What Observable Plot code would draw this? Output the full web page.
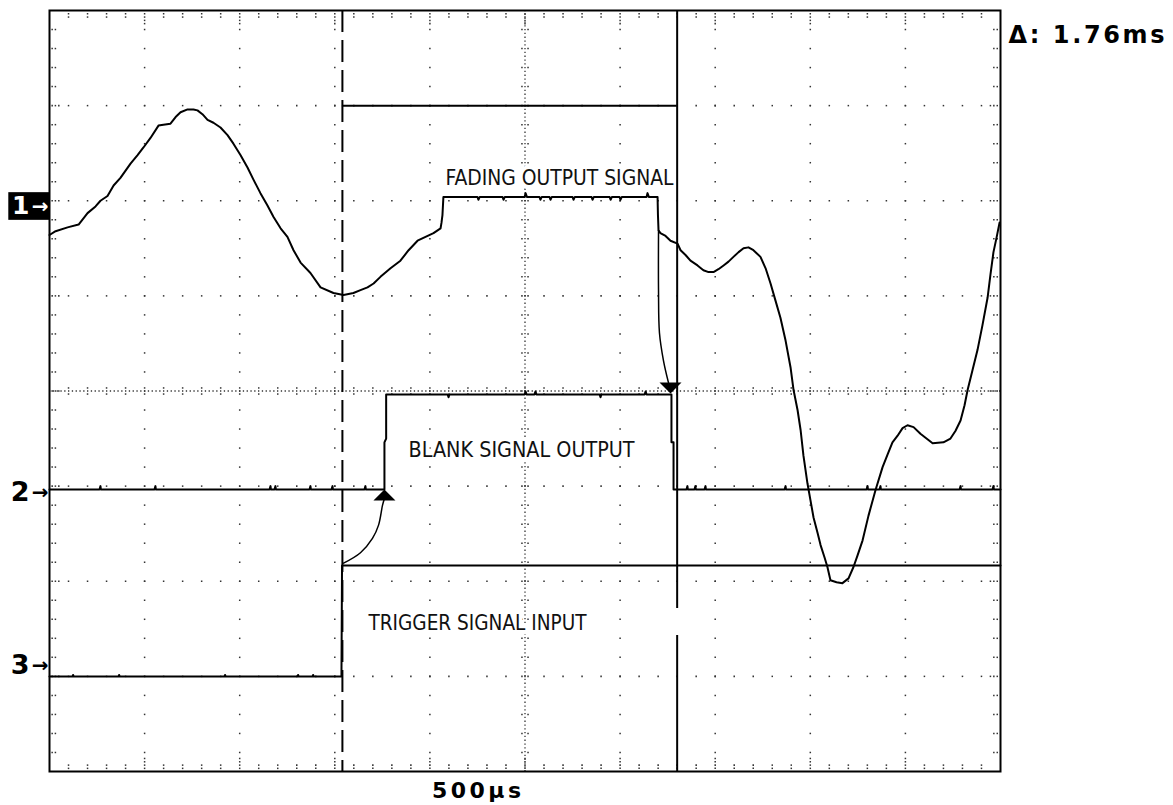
<!DOCTYPE html>
<html><head><meta charset="utf-8">
<script src="https://cdn.jsdelivr.net/npm/d3@7"></script>
<script src="https://cdn.jsdelivr.net/npm/@observablehq/plot@0.6"></script>
<style>
html,body{margin:0;padding:0;background:#fff;}
#chart{position:absolute;left:0;top:0;}
</style></head><body><div id="chart"></div>
<script>
// x: time in µs (500 µs/div, 10 div), y: screen divisions (0..8)
const ch1 = [[0,5.64],[32,5.68],[95,5.72],[153,5.75],[200,5.87],[242,5.94],[268,6.00],[305,6.05],[337,6.16],[373,6.24],[426,6.39],[463,6.48],[494,6.56],[531,6.66],[573,6.79],[599,6.80],[636,6.81],[663,6.88],[689,6.93],[726,6.96],[757,6.96],[778,6.95],[804,6.91],[831,6.85],[862,6.82],[899,6.77],[936,6.69],[967,6.60],[1004,6.48],[1041,6.35],[1073,6.22],[1109,6.08],[1146,5.95],[1178,5.83],[1215,5.71],[1251,5.62],[1283,5.48],[1320,5.35],[1372,5.24],[1425,5.09],[1493,5.03],[1546,5.01],[1598,5.03],[1635,5.06],[1672,5.09],[1704,5.13],[1740,5.20],[1793,5.29],[1845,5.37],[1888,5.48],[1935,5.58],[1977,5.62],[2019,5.66],[2056,5.71],[2061,5.77],[2066,5.85],[2071,6.04],
[2250,6.04],[2255,6.01],[2262,6.04],[2382,6.04],[2387,6.01],[2394,6.04],[2498,6.04],[2503,6.08],[2510,6.04],[2576,6.04],[2581,6.01],[2588,6.04],[2629,6.04],[2634,6.01],[2641,6.04],[2750,6.04],[2755,6.01],[2762,6.04],[2850,6.04],[2855,6.01],[2862,6.04],[2945,6.04],[2950,6.01],[2957,6.04],[2997,6.04],[3002,6.01],[3009,6.04],[3139,6.04],[3144,6.08],[3151,6.04],[3197,6.04],
[3199,5.85],[3202,5.69],[3212,5.66],[3239,5.63],[3265,5.58],[3302,5.55],[3318,5.48],[3344,5.43],[3370,5.37],[3407,5.32],[3438,5.27],[3465,5.25],[3491,5.25],[3517,5.28],[3544,5.32],[3570,5.36],[3596,5.41],[3623,5.46],[3649,5.50],[3675,5.51],[3701,5.48],[3738,5.41],[3765,5.29],[3791,5.13],[3817,4.95],[3843,4.77],[3870,4.53],[3896,4.25],[3912,4.01],[3933,3.80],[3949,3.59],[3964,3.32],[3985,3.03],[4001,2.85],[4017,2.67],[4038,2.51],[4054,2.38],[4075,2.25],[4090,2.15],[4106,2.01],[4138,1.99],[4169,1.98],[4201,2.03],[4227,2.15],[4248,2.27],[4275,2.43],[4306,2.69],[4343,2.96],[4380,3.20],[4406,3.33],[4432,3.46],[4459,3.53],[4485,3.61],[4511,3.64],[4543,3.62],[4579,3.55],[4611,3.50],[4643,3.45],[4700,3.46],[4737,3.50],[4763,3.58],[4790,3.69],[4811,3.85],[4827,4.01],[4853,4.22],[4879,4.43],[4905,4.69],[4932,4.98],[4947,5.22],[4963,5.46],[4979,5.61],[4995,5.77]];

const ch2 = [[0,2.965],[263,2.965],[268,3.00],[270,2.965],[552,2.965],[557,3.00],[559,2.965],[1157,2.965],[1162,3.00],[1164,2.965],[1183,2.965],[1188,3.00],[1190,2.965],[1367,2.965],[1372,3.00],[1374,2.965],[1483,2.965],[1488,3.00],[1490,2.965],[1656,2.965],[1661,3.00],[1663,2.965],[1761,2.965],[1761,3.46],[1770,3.50],[1770,3.964],
[2093,3.964],[2098,3.935],[2103,3.964],[2498,3.964],[2503,3.995],[2508,3.964],[2550,3.964],[2555,3.995],[2560,3.964],[2892,3.964],[2897,3.935],[2902,3.964],[3129,3.964],[3134,3.995],[3139,3.964],
[3270,3.964],[3270,3.46],[3281,3.46],[3281,2.965],[3349,2.965],[3354,3.00],[3356,2.965],[3391,2.965],[3396,3.00],[3398,2.965],[3444,2.965],[3449,3.00],[3451,2.965],[3865,2.965],[3870,3.00],[3872,2.965],[4296,2.965],[4301,3.00],[4303,2.965],[4364,2.965],[4369,3.00],[4371,2.965],[4785,2.965],[4790,3.00],[4792,2.965],[4958,2.965],[4963,3.00],[4965,2.965],[5000,2.965]];

const ch3 = [[0,1.0],[121,1.0],[124,1.015],[127,1.0],[363,1.0],[366,1.015],[369,1.0],[920,1.0],[923,1.015],[926,1.0],[1304,1.0],[1307,1.015],[1310,1.0],[1383,1.0],[1386,1.015],[1389,1.0],[1535,1.0],[1538,2.166],[5000,2.166]];

const arrowTrig = [[1546,2.19],[1635,2.30],[1698,2.45],[1730,2.59],[1751,2.80],[1761,2.87]];
const arrowFade = [[3202,5.69],[3202,5.06],[3207,4.61],[3228,4.32],[3254,4.09]];
const arrowHeadUp = [[1761,2.965]];
const arrowHeadDown = [[3265,3.975]];

const cursorDashed = [1540];
const cursorSolidSegs = [[0,1.43],[1.714,8]];
const cursorSolidT = 3300;
const deltaLevel = 7;

const labelText = ["FADING OUTPUT SIGNAL","BLANK SIGNAL OUTPUT","TRIGGER SIGNAL INPUT"];
const labelT = [2082, 1888, 1677];
const labelV = [6.24, 3.38, 1.56];

const chanLabels = ["1","2","3"];
const chanV = [5.94, 2.93, 1.115];
const chan1Box = [{t1:-214, t2:0, v1:5.794, v2:6.085}];

const deltaReadout = "Δ: 1.76ms";
const timebase = "500µs";

// graticule
const majorT = d3.range(500, 5000, 500);
const majorV = d3.range(1, 8);
const minorT = d3.range(100, 5000, 100);
const minorV = d3.range(1, 40).map(j => +(j*0.2).toFixed(2));
const gridDots = [];
for (const t of majorT) if (t !== 2500) for (const v of minorV) gridDots.push([t, v]);
for (const v of majorV) if (v !== 4) for (const t of minorT) gridDots.push([t, v]);
for (const v of minorV) { gridDots.push([2484, v], [2516, v]); }
for (const t of minorT) { gridDots.push([t, 3.968], [t, 4.032]); }
for (const v of minorV) {
  const isMajor = Math.abs(v - Math.round(v)) < 1e-6;
  gridDots.push([14, v], [31, v], [4965, v], [4983, v]);
  if (isMajor) gridDots.push([49, v], [4947, v]);
}
for (const t of minorT) {
  const isMajor = t % 500 === 0;
  gridDots.push([t, 7.966], [t, 7.931], [t, 0.067], [t, 0.033]);
  if (isMajor) gridDots.push([t, 7.896], [t, 7.862], [t, 0.102], [t, 0.137]);
}

const triUp = {draw(ctx){ctx.moveTo(0,0);ctx.lineTo(11,11);ctx.lineTo(-11,11);ctx.closePath();}};
const triDown = {draw(ctx){ctx.moveTo(0,0);ctx.lineTo(11,-11);ctx.lineTo(-11,-11);ctx.closePath();}};

const labelFont = "'Liberation Sans Narrow','DejaVu Sans Condensed','Liberation Sans',sans-serif";

const plot = Plot.plot({
  width: 1173, height: 805,
  marginLeft: 49, marginRight: 173, marginTop: 10, marginBottom: 34,
  x: {domain: [0, 5000], axis: null},
  y: {domain: [0, 8], axis: null},
  style: {background: "#fff", overflow: "visible"},
  marks: [
    Plot.dot(gridDots, {x: d => d[0], y: d => d[1], symbol: "square", r: 0.85, fill: "#333"}),
    Plot.ruleX([2500], {stroke: "#333", strokeWidth: 1.3, strokeDasharray: "1.3,2.5"}),
    Plot.ruleY([4], {stroke: "#333", strokeWidth: 1.3, strokeDasharray: "1.3,2.5"}),
    Plot.text(labelText, {x: (d,i) => labelT[i], y: (d,i) => labelV[i], text: d => d, textAnchor: "start",
      fontSize: 22, fontFamily: labelFont, fill: "#111", stroke: "white", strokeWidth: 8}),
    Plot.ruleX(cursorDashed, {stroke: "black", strokeWidth: 2, strokeDasharray: "22,8"}),
    Plot.ruleX(cursorSolidSegs, {x: () => cursorSolidT, y1: d => d[0], y2: d => d[1], stroke: "black", strokeWidth: 2}),
    Plot.ruleY([deltaLevel], {x1: cursorDashed[0], x2: cursorSolidT, stroke: "black", strokeWidth: 2}),
    Plot.line(ch3, {x: d => d[0], y: d => d[1], stroke: "black", strokeWidth: 2}),
    Plot.line(ch2, {x: d => d[0], y: d => d[1], stroke: "black", strokeWidth: 2}),
    Plot.line(ch1, {x: d => d[0], y: d => d[1], stroke: "black", strokeWidth: 2}),
    Plot.line(arrowTrig, {x: d => d[0], y: d => d[1], curve: "catmull-rom", stroke: "black", strokeWidth: 1.5}),
    Plot.line(arrowFade, {x: d => d[0], y: d => d[1], curve: "catmull-rom", stroke: "black", strokeWidth: 1.5}),
    Plot.dot(arrowHeadUp, {x: d => d[0], y: d => d[1], symbol: triUp, fill: "black", r: 5}),
    Plot.dot(arrowHeadDown, {x: d => d[0], y: d => d[1], symbol: triDown, fill: "black", r: 5}),
    Plot.rect(chan1Box, {x1: "t1", x2: "t2", y1: "v1", y2: "v2", fill: "black"}),
    Plot.text(chanLabels, {x: () => 0, y: (d,i) => chanV[i], text: d => d, dx: -20, textAnchor: "end",
      fontSize: d => d === "1" ? 25 : 27, fontWeight: "bold", fontFamily: "DejaVu Sans", fill: d => d === "1" ? "white" : "black"}),
    Plot.text(chanLabels, {x: () => 0, y: (d,i) => chanV[i], text: () => "→", dx: -1, textAnchor: "end",
      fontSize: 20, fontWeight: "bold", fontFamily: "DejaVu Sans", fill: d => d === "1" ? "white" : "black"}),
    Plot.text([deltaReadout], {x: () => 5042, y: () => 7.74, text: d => d, textAnchor: "start",
      fontSize: 24, fontWeight: "bold", fontFamily: "DejaVu Sans", fill: "black"}),
    Plot.text([timebase], {x: () => 2245, y: () => -0.2, text: d => d, textAnchor: "middle",
      fontSize: 22, fontWeight: "bold", fontFamily: "DejaVu Sans", fill: "black"}),
    Plot.frame({stroke: "black", strokeWidth: 2})
  ]
});
// fit text widths to the instrument's bitmap font
const fitWidths = {"FADING OUTPUT SIGNAL": [228, "spacingAndGlyphs"], "BLANK SIGNAL OUTPUT": [226, "spacingAndGlyphs"],
  "TRIGGER SIGNAL INPUT": [218, "spacingAndGlyphs"], "Δ: 1.76ms": [156, "spacing"], "500µs": [89, "spacing"]};
d3.select(plot).selectAll("text").each(function() {
  const f = fitWidths[this.textContent];
  if (f) { this.setAttribute("textLength", f[0]); this.setAttribute("lengthAdjust", f[1]); }
});
document.getElementById("chart").appendChild(plot);
</script></body></html>
